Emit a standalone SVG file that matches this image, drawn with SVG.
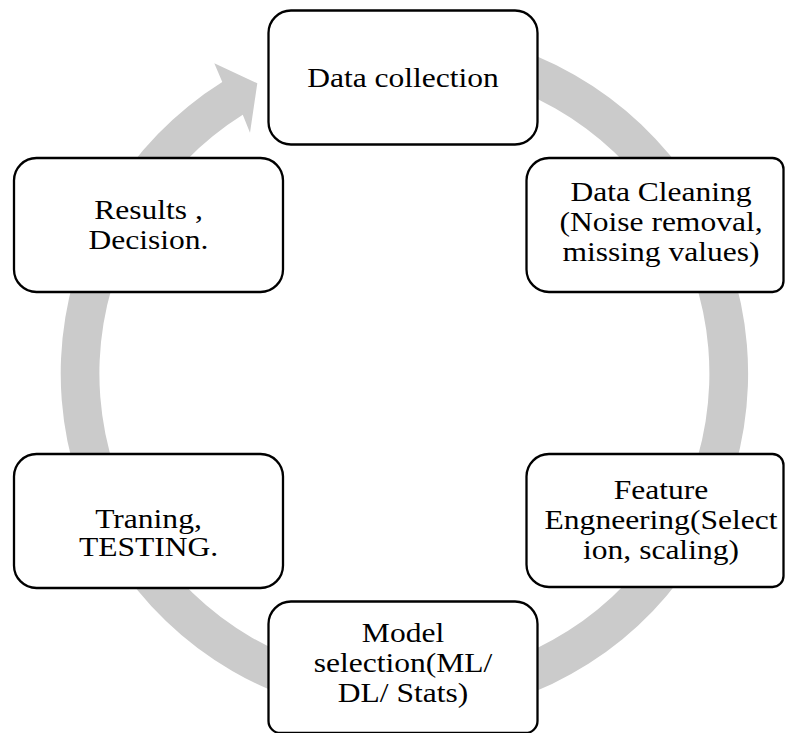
<svg xmlns="http://www.w3.org/2000/svg" width="785" height="733" viewBox="0 0 785 733">
  <style>
    .box { fill: #ffffff; stroke: #000000; stroke-width: 2.3; }
    .ring { fill: #cbcbcb; stroke: none; }
    .lbl { font-size: 26.5px; fill: #000000; text-anchor: middle; }
  </style>
  <rect x="0" y="0" width="785" height="733" fill="#ffffff"/>
  <g id="connectors">
    <path class="ring" d="M 374.44 31.11 A 343.7 343.7 0 1 1 222.27 82.03 L 214.3 63.3 L 257.3 83.3 L 250 132.7 L 242.77 114.84 A 305 305 0 1 0 377.82 69.66 Z"/>
  </g>
  <g font-family="'Liberation Serif', 'Times New Roman', serif">
  <g id="node-data-collection">
    <rect class="box" x="268.5" y="10.5" width="269" height="134" rx="22.5" ry="22.5"/>
    <text class="lbl" transform="translate(403,87) scale(1.19,1)" x="0" y="0">Data collection</text>
  </g>
  <g id="node-data-cleaning">
    <path class="box" d="M 549 158 H 772.5 A 11 11 0 0 1 783.5 169 V 281 A 11 11 0 0 1 772.5 292 H 549 A 22.5 22.5 0 0 1 526.5 269.5 V 180.5 A 22.5 22.5 0 0 1 549 158 Z"/>
    <text class="lbl" transform="translate(661,231) scale(1.19,1)"><tspan x="0" y="-30">Data Cleaning</tspan><tspan x="0" y="0">(Noise removal,</tspan><tspan x="0" y="30">missing values)</tspan></text>
  </g>
  <g id="node-feature-engineering">
    <path class="box" d="M 549 454 H 772.5 A 11 11 0 0 1 783.5 465 V 576 A 11 11 0 0 1 772.5 587 H 549 A 22.5 22.5 0 0 1 526.5 564.5 V 476.5 A 22.5 22.5 0 0 1 549 454 Z"/>
    <text class="lbl" transform="translate(661,529) scale(1.19,1)"><tspan x="0" y="-30">Feature</tspan><tspan x="0" y="0">Engneering(Select</tspan><tspan x="0" y="30">ion, scaling)</tspan></text>
  </g>
  <g id="node-model-selection">
    <path class="box" d="M 291 601.5 H 515 A 22.5 22.5 0 0 1 537.5 624 V 721 A 12 12 0 0 1 525.5 733 H 280.5 A 12 12 0 0 1 268.5 721 V 624 A 22.5 22.5 0 0 1 291 601.5 Z"/>
    <text class="lbl" transform="translate(403,672) scale(1.19,1)"><tspan x="0" y="-30">Model</tspan><tspan x="0" y="0">selection(ML/</tspan><tspan x="0" y="30">DL/ Stats)</tspan></text>
  </g>
  <g id="node-training-testing">
    <rect class="box" x="14" y="454" width="269" height="134" rx="22.5" ry="22.5"/>
    <text class="lbl" transform="translate(148.5,542) scale(1.19,1)"><tspan x="0" y="-14">Traning,</tspan><tspan x="0" y="14">TESTING.</tspan></text>
  </g>
  <g id="node-results-decision">
    <rect class="box" x="14" y="158" width="269" height="134" rx="22.5" ry="22.5"/>
    <text class="lbl" transform="translate(148.5,234) scale(1.19,1)"><tspan x="0" y="-15">Results ,</tspan><tspan x="0" y="15">Decision.</tspan></text>
  </g>
  </g>
</svg>
